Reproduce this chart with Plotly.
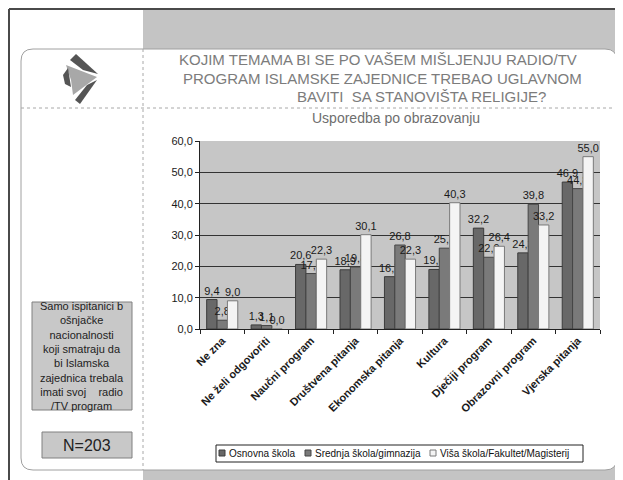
#!/usr/bin/env python3
'''
bar chart: radio/TV topics by education level, with the slide frame around it.
'''
import plotly.graph_objects as go

W, H = 623, 480
BODY = 8  # the page body keeps its default 8px margin
# plot area in window pixels
PX0, PX1, PY0, PY1 = 200, 600, 141, 329

categories = ['Ne zna', 'Ne želi odgovoriti', 'Naučni program', 'Društvena pitanja',
              'Ekonomska pitanja', 'Kultura', 'Dječiji program', 'Obrazovni program',
              'Vjerska pitanja']
osnovna = [9.4, 1.3, 20.6, 18.9, 16.7, 19.0, 32.2, 24.3, 46.9]
srednja = [2.8, 1.1, 17.7, 19.8, 26.8, 25.8, 22.9, 39.8, 44.8]
visa = [9.0, 0.0, 22.3, 30.1, 22.3, 40.3, 26.4, 33.2, 55.0]
series_names = ['Osnovna škola', 'Srednja škola/gimnazija', 'Viša škola/Fakultet/Magisterij']
y_ticks = [0, 10, 20, 30, 40, 50, 60]

title_lines = ['KOJIM TEMAMA BI SE PO VAŠEM MIŠLJENJU RADIO/TV',
               'PROGRAM ISLAMSKE ZAJEDNICE TREBAO UGLAVNOM',
               'BAVITI  SA STANOVIŠTA RELIGIJE?']
subtitle = 'Usporedba po obrazovanju'
note_lines = ['Samo ispitanici b', 'ošnjačke', 'nacionalnosti', 'koji smatraju da',
              'bi Islamska', 'zajednica trebala', 'imati svoj    radio', '/TV program']
n_text = 'N=203'

ARIAL = 'Liberation Sans, Arial'
colors = ['#686868', '#7a7a7a', '#f4f4f4']
outlines = ['#3c3c3c', '#454545', '#7a7a7a']


def px(x):
    return (x - PX0) / (PX1 - PX0)


def py(y):
    return (PY1 - y) / (PY1 - PY0)


def rect(x0, y0, x1, y1, fill, line='rgba(0,0,0,0)', width=1, layer='below'):
    return dict(type='rect', xref='paper', yref='paper', x0=px(x0), x1=px(x1),
                y0=py(y1), y1=py(y0), fillcolor=fill, line=dict(color=line, width=width),
                layer=layer)


def line(x0, y0, x1, y1, color, width=1, dash='solid'):
    return dict(type='line', xref='paper', yref='paper', x0=px(x0), x1=px(x1),
                y0=py(y0), y1=py(y1), line=dict(color=color, width=width, dash=dash),
                layer='below')


def poly(points, fill, layer='below'):
    d = 'M ' + ' L '.join('{:.4f},{:.4f}'.format(px(a), py(b)) for a, b in points) + ' Z'
    return dict(type='path', xref='paper', yref='paper', path=d, fillcolor=fill,
                line=dict(width=0), layer=layer)


def rounded(x0, y0, x1, y1, r):
    d = 'M {},{}'.format(px(x0 + r), py(y0))
    d += ' L {},{}'.format(px(x1 - r), py(y0))
    d += ' Q {},{} {},{}'.format(px(x1), py(y0), px(x1), py(y0 + r))
    d += ' L {},{}'.format(px(x1), py(y1 - r))
    d += ' Q {},{} {},{}'.format(px(x1), py(y1), px(x1 - r), py(y1))
    d += ' L {},{}'.format(px(x0 + r), py(y1))
    d += ' Q {},{} {},{}'.format(px(x0), py(y1), px(x0), py(y1 - r))
    d += ' L {},{}'.format(px(x0), py(y0 + r))
    d += ' Q {},{} {},{} Z'.format(px(x0), py(y0), px(x0 + r), py(y0))
    return dict(type='path', xref='paper', yref='paper', path=d, fillcolor='white',
                line=dict(color='#a0a0a0', width=1), layer='below')


fig = go.Figure()
for name, vals, c, o in zip(series_names, [osnovna, srednja, visa], colors, outlines):
    fig.add_trace(go.Bar(
        x=categories, y=vals, name=name,
        marker=dict(color=c, line=dict(color=o, width=1)),
        texttemplate='%{y:.1f}', textposition='outside', constraintext='none',
        textfont=dict(family=ARIAL, size=11, color='#1a1a1a'),
        cliponaxis=False,
    ))

shapes = [
    rect(143, 9, 623, 480, '#c4c4c4'),
    line(9, 9, 623, 9, '#4a4a4a', 2),
    line(9, 9, 9, 480, '#4a4a4a', 2),
    rounded(21, 49, 617, 470, 12),
    line(143, 49, 143, 470, '#a8a8a8', 1, 'dot'),
    line(21, 108, 617, 108, '#a8a8a8', 1, 'dot'),
    rect(PX0, PY0, PX1, PY1, '#c6c6c6'),
    rect(32, 302, 132, 410, '#c8c8c8', '#808080'),
    rect(42, 432, 132, 458, '#c8c8c8', '#808080'),
    # logo
    poly([(66, 65), (97, 77), (73, 95), (71, 80)], '#a8a8a8'),
    poly([(70, 60), (76, 54), (98, 74), (83, 70)], '#555555'),
    poly([(63, 75), (68, 68), (71, 87), (65, 84)], '#555555'),
    poly([(75, 100), (80, 104), (97, 80), (87, 85)], '#555555'),
    # legend box
    rect(216, 445, 583, 462, 'white', '#222222', 1, 'above'),
]

annotations = []
for t, yc, xc in zip(title_lines, [59, 78, 96], [378, 382, 421]):
    annotations.append(dict(text=t, x=px(xc), y=py(yc), xref='paper', yref='paper',
                            showarrow=False, xanchor='center', yanchor='middle',
                            font=dict(family=ARIAL, size=15, color='#7c7c7c')))
annotations.append(dict(text=subtitle, x=px(396), y=py(118), xref='paper', yref='paper',
                        showarrow=False, xanchor='center', yanchor='middle',
                        font=dict(family=ARIAL, size=14, color='#6e6e6e')))
annotations.append(dict(text='<br>'.join(note_lines), x=px(82), y=py(356), xref='paper',
                        yref='paper', showarrow=False, xanchor='center', yanchor='middle',
                        align='center',
                        font=dict(family=ARIAL, size=11, color='#222222')))
annotations.append(dict(text=n_text, x=px(87), y=py(445), xref='paper', yref='paper',
                        showarrow=False, xanchor='center', yanchor='middle',
                        font=dict(family=ARIAL, size=16, color='#222222')))

# legend drawn by hand so that it fits the narrow box of the original
legend_x = [219, 305, 430]
for name, lx, c, o in zip(series_names, legend_x, colors, outlines):
    shapes.append(rect(lx, 450, lx + 6, 456, c, o, 1, 'above'))
    annotations.append(dict(text=name, x=px(lx + 8), y=py(453.5), xref='paper', yref='paper',
                            showarrow=False, xanchor='left', yanchor='middle',
                            font=dict(family=ARIAL, size=10, color='#111111')))

fig.update_layout(
    width=W - BODY, height=H - BODY,
    margin=dict(l=PX0 - BODY, r=W - PX1, t=PY0 - BODY, b=H - PY1, autoexpand=False),
    paper_bgcolor='white', plot_bgcolor='rgba(0,0,0,0)',
    separators=',.',
    barmode='group', bargap=0.3, bargroupgap=0,
    showlegend=False,
    shapes=shapes, annotations=annotations,
)
fig.update_yaxes(range=[0, 60], tickvals=y_ticks, tickformat='.1f',
                 showgrid=True, gridcolor='#333333', gridwidth=1,
                 showline=True, linecolor='#222222', ticks='outside', ticklen=4,
                 tickcolor='#222222', zeroline=False,
                 tickfont=dict(family=ARIAL, size=11, color='#1a1a1a'))
fig.update_xaxes(tickangle=-45, showline=True, linecolor='#222222', ticks='outside',
                 tickson='boundaries', ticklen=4, tickcolor='#222222',
                 tickfont=dict(family=ARIAL, size=11, color='#1a1a1a', weight='bold'))

fig.write_html('out.html')
